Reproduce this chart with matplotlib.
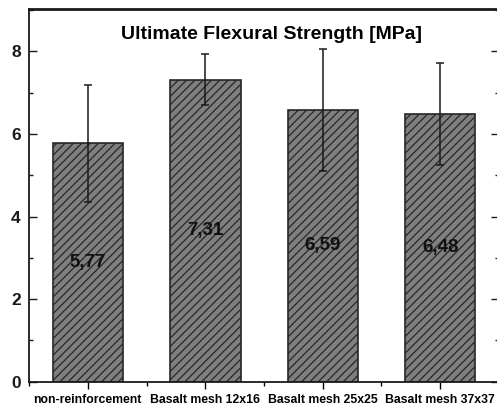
"""Ultimate flexural strength bar chart with hatched bars and error bars."""

import matplotlib

matplotlib.use("Agg")
import matplotlib.pyplot as plt
import numpy as np
from matplotlib.ticker import MultipleLocator

categories = ["non-reinforcement", "Basalt mesh 12x16", "Basalt mesh 25x25", "Basalt mesh 37x37"]
strength = [5.77, 7.31, 6.59, 6.48]
std_dev = [1.41, 0.62, 1.48, 1.24]
value_labels = ["5,77", "7,31", "6,59", "6,48"]

plt.rcParams["font.family"] = ["Liberation Sans", "DejaVu Sans"]
plt.rcParams["hatch.linewidth"] = 0.9


def main() -> None:
    fig = plt.figure(figsize=(4.97, 4.07), dpi=100)
    ax = fig.add_axes([0.0584, 0.0622, 0.9456, 0.916])

    x = np.arange(1, len(categories) + 1)
    bars = ax.bar(x, strength, width=0.6, color="#7f7f7f", edgecolor="#262626",
                  linewidth=1.2, hatch="////", zorder=2)
    ax.errorbar(x, strength, yerr=std_dev, fmt="none", ecolor="#1a1a1a",
                elinewidth=1.1, capsize=3, capthick=1.1, zorder=3)

    for bar, lbl in zip(bars, value_labels):
        ax.text(bar.get_x() + bar.get_width() / 2, bar.get_height() / 2, lbl,
                ha="center", va="center", fontsize=13.5, fontweight="bold", color="#111111", zorder=4)

    ax.set_xlim(0.5, 4.5)
    ax.set_ylim(0, 9.03)
    ax.set_xticks(x)
    ax.set_xticklabels(categories, fontsize=8.8, fontweight="bold")
    ax.xaxis.set_minor_locator(MultipleLocator(0.5))
    ax.yaxis.set_major_locator(MultipleLocator(2))
    ax.yaxis.set_minor_locator(MultipleLocator(1))
    for t in ax.get_yticklabels():
        t.set_fontsize(12.5)
        t.set_fontweight("bold")

    ax.tick_params(axis="y", which="both", direction="in", right=True, colors="#1a1a1a")
    ax.tick_params(axis="y", which="major", length=6, width=1.0, pad=6)
    ax.tick_params(axis="y", which="minor", length=3, width=1.0)
    ax.tick_params(axis="x", which="major", direction="out", length=5, width=1.0, pad=4)
    ax.tick_params(axis="x", which="minor", direction="out", length=3, width=1.0)
    for s in ax.spines.values():
        s.set_linewidth(1.3)
        s.set_color("#1a1a1a")
    ax.spines["top"].set_linewidth(2.0)

    ax.text(0.517, 0.932, "Ultimate Flexural Strength [MPa]", transform=ax.transAxes,
            ha="center", va="center", fontsize=14, fontweight="bold")

    fig.savefig("out.png", dpi=100)


if __name__ == "__main__":
    main()
